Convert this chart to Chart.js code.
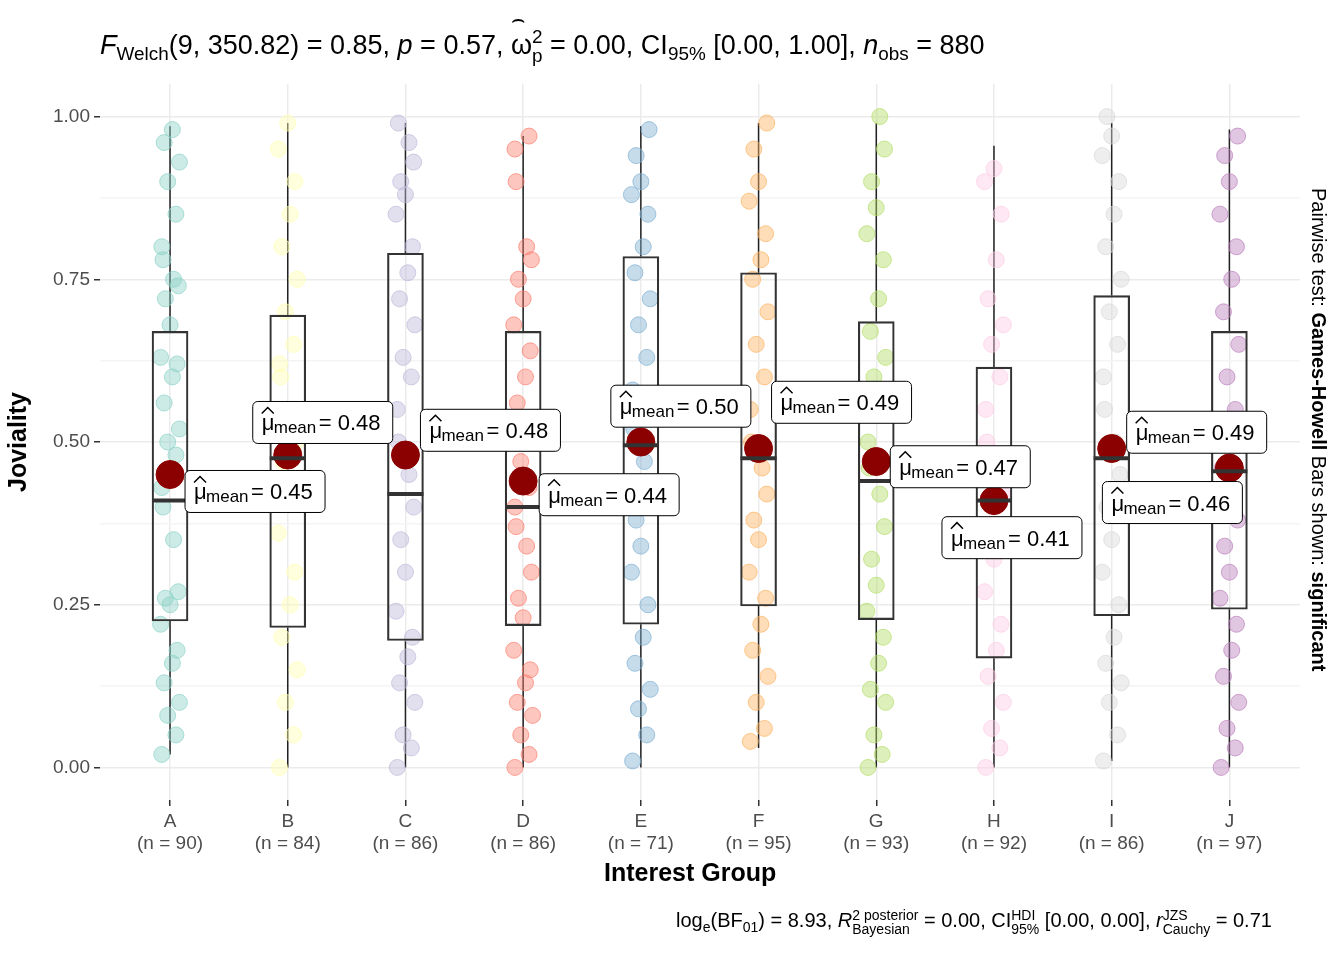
<!DOCTYPE html>
<html><head><meta charset="utf-8">
<script src="https://cdn.jsdelivr.net/npm/chart.js@4.4.1/dist/chart.umd.min.js"></script>
<style>
body{margin:0;background:#fff;font-family:"Liberation Sans",Arial,sans-serif}
#wrap{position:relative;width:1344px;height:960px}
canvas{position:absolute;left:0;top:0}
.t{position:absolute;white-space:nowrap;color:#000}
sub,sup{font-size:70%}
.ss{display:inline-block;vertical-align:middle;line-height:1;font-size:70%;text-align:left}
</style></head><body>
<div id="wrap">
<canvas id="c" width="1344" height="960"></canvas>
<div class="t" style="left:100px;top:28px;font-size:27px"><i>F</i><sub>Welch</sub>(9, 350.82) = 0.85, <i>p</i> = 0.57, <span style="position:relative">ω<span style="position:absolute;left:0px;top:-24px;font-size:22px">⌢</span></span><span class="ss">2<br>p</span> = 0.00, CI<sub>95%</sub> [0.00, 1.00], <i>n</i><sub>obs</sub> = 880</div>
<div class="t" style="left:604px;top:858px;font-size:25px;font-weight:bold">Interest Group</div>
<div class="t" style="left:676px;top:908px;font-size:20px">log<sub>e</sub>(BF<sub>01</sub>) = 8.93, <i>R</i><span class="ss">2 posterior<br>Bayesian</span> = 0.00, CI<span class="ss">HDI<br>95%</span> [0.00, 0.00], <i>r</i><span class="ss">JZS<br>Cauchy</span> = 0.71</div>
<div class="t" style="left:1330px;top:188px;font-size:20px;transform-origin:0 0;transform:rotate(90deg)">Pairwise test: <b>Games-Howell</b> Bars shown: <b>significant</b></div>
</div>
<script>
const groups=["A","B","C","D","E","F","G","H","I","J"];
const counts=[90,84,86,86,71,95,93,92,86,97];
const colors=["#8DD3C7","#FFFFB3","#BEBADA","#FB8072","#80B1D3","#FDB462","#B3DE69","#FCCDE5","#D9D9D9","#BC80BD"];
const q1=[0.225,0.215,0.195,0.218,0.22,0.248,0.227,0.168,0.233,0.243];
const med=[0.41,0.475,0.42,0.40,0.495,0.475,0.44,0.41,0.475,0.455];
const q3=[0.67,0.695,0.79,0.67,0.785,0.76,0.685,0.615,0.725,0.67];
const wlo=[0.02,0.00,0.00,0.00,0.00,0.03,0.00,0.00,0.01,0.00];
const whi=[0.985,0.99,0.99,0.97,0.985,0.99,0.99,0.955,0.99,0.98];
const means=[0.45,0.48,0.48,0.44,0.50,0.49,0.47,0.41,0.49,0.46];
const pts=[
[0.02,0.05,0.08,0.1,0.13,0.16,0.18,0.22,0.25,0.26,0.27,0.35,0.4,0.43,0.48,0.5,0.52,0.56,0.6,0.62,0.63,0.68,0.72,0.74,0.75,0.78,0.8,0.85,0.9,0.93,0.96,0.98],
[0.0,0.05,0.1,0.15,0.2,0.25,0.3,0.36,0.42,0.47,0.5,0.55,0.6,0.62,0.65,0.7,0.75,0.8,0.85,0.9,0.95,0.99],
[0.0,0.03,0.05,0.1,0.13,0.17,0.2,0.24,0.3,0.35,0.4,0.45,0.5,0.55,0.6,0.63,0.68,0.72,0.76,0.8,0.85,0.88,0.9,0.93,0.96,0.99],
[0.0,0.02,0.05,0.08,0.1,0.13,0.15,0.18,0.23,0.26,0.3,0.34,0.37,0.4,0.43,0.47,0.52,0.56,0.6,0.64,0.68,0.72,0.75,0.78,0.8,0.9,0.95,0.97],
[0.01,0.05,0.09,0.12,0.16,0.2,0.25,0.3,0.34,0.38,0.42,0.47,0.52,0.58,0.63,0.68,0.72,0.76,0.8,0.85,0.88,0.9,0.94,0.98],
[0.04,0.06,0.1,0.14,0.18,0.22,0.26,0.3,0.35,0.38,0.42,0.46,0.5,0.55,0.6,0.65,0.7,0.75,0.78,0.82,0.87,0.9,0.95,0.99],
[0.0,0.02,0.05,0.1,0.12,0.16,0.2,0.24,0.28,0.32,0.37,0.42,0.46,0.5,0.55,0.6,0.63,0.67,0.72,0.78,0.82,0.86,0.9,0.95,1.0],
[0.0,0.03,0.06,0.1,0.14,0.18,0.22,0.27,0.32,0.36,0.42,0.46,0.5,0.55,0.6,0.65,0.68,0.72,0.78,0.85,0.9,0.92],
[0.01,0.05,0.1,0.13,0.16,0.2,0.25,0.3,0.35,0.4,0.45,0.5,0.55,0.6,0.65,0.7,0.75,0.8,0.85,0.9,0.94,0.97,1.0],
[0.0,0.03,0.06,0.1,0.14,0.18,0.22,0.26,0.3,0.34,0.38,0.42,0.46,0.5,0.55,0.6,0.65,0.7,0.75,0.8,0.85,0.9,0.94,0.97]
];
const jitter=[-0.07,0.05,-0.02,0.08,-0.05,0.02,0.06,-0.08,0.0,-0.04,0.07,0.03,-0.06];
// label anchor: [px offset of left edge from group, y value of centre]
const labelPos=[[15,0.424],[-35,0.53],[15,0.518],[16,0.419],[-30,0.555],[13,0.561],[14,0.462],[-52,0.353],[15,0.515],[-127,0.407]];

const hex=(h,a)=>{const n=parseInt(h.slice(1),16);return `rgba(${n>>16},${(n>>8)&255},${n&255},${a})`;};
const datasets=[];
pts.forEach((arr,g)=>{
  datasets.push({type:"scatter",data:arr.map((v,i)=>({x:g+jitter[i%jitter.length],y:v})),
    pointRadius:8,backgroundColor:hex(colors[g],0.45),borderColor:hex(colors[g],0.7),borderWidth:1,order:3});
});
datasets.push({type:"bar",data:groups.map((g,i)=>({x:i,y:[q1[i],q3[i]]})),backgroundColor:"rgba(0,0,0,0)",
  borderColor:"#333",borderWidth:1.5,borderSkipped:false,barThickness:36,order:2});
datasets.push({type:"scatter",data:means.map((m,i)=>({x:i,y:m})),pointRadius:14,backgroundColor:"#8B0000",borderColor:"#8B0000",order:0});

const boxExtras={id:"boxExtras",
  beforeDatasetsDraw(ch){
    const {ctx,scales:{x,y}}=ch;ctx.save();ctx.strokeStyle="#222";ctx.lineWidth=1.5;
    groups.forEach((g,i)=>{const px=x.getPixelForValue(i);
      ctx.beginPath();ctx.moveTo(px,y.getPixelForValue(wlo[i]));ctx.lineTo(px,y.getPixelForValue(q1[i]));
      ctx.moveTo(px,y.getPixelForValue(q3[i]));ctx.lineTo(px,y.getPixelForValue(whi[i]));ctx.stroke();});
    ctx.restore();},
  afterDatasetsDraw(ch){
    const {ctx,scales:{x,y}}=ch;ctx.save();
    groups.forEach((g,i)=>{const px=x.getPixelForValue(i);
      ctx.strokeStyle="#333";ctx.lineWidth=4;ctx.beginPath();
      ctx.moveTo(px-18,y.getPixelForValue(med[i]));ctx.lineTo(px+18,y.getPixelForValue(med[i]));ctx.stroke();});
    groups.forEach((g,i)=>{
      const px=x.getPixelForValue(i), lx=px+labelPos[i][0], cy=y.getPixelForValue(labelPos[i][1]);
      const w=140,h=42,ty=cy+8;
      ctx.fillStyle="#fff";ctx.strokeStyle="#000";ctx.lineWidth=1;
      ctx.beginPath();ctx.roundRect(lx,cy-h/2,w,h,5);ctx.fill();ctx.stroke();
      ctx.fillStyle="#000";ctx.textBaseline="alphabetic";ctx.textAlign="left";
      ctx.font="22px 'Liberation Sans'";ctx.fillText("μ",lx+9,ty);
      ctx.lineWidth=1.5;ctx.beginPath();ctx.moveTo(lx+9,ty-17);ctx.lineTo(lx+15,ty-23);ctx.lineTo(lx+21,ty-17);ctx.stroke();
      ctx.font="17px 'Liberation Sans'";ctx.fillText("mean",lx+21,ty+3);
      ctx.font="22px 'Liberation Sans'";ctx.fillText("= "+means[i].toFixed(2),lx+66,ty);
    });
    ctx.restore();}
};

new Chart(document.getElementById("c"),{
  data:{datasets},
  plugins:[boxExtras],
  options:{responsive:false,animation:false,
    layout:{padding:{top:84,right:44,left:0,bottom:0}},
    plugins:{legend:{display:false},tooltip:{enabled:false}},
    scales:{
      x:{type:"linear",min:-0.595,max:9.6,offset:false,afterFit(s){s.height=160;},
        afterBuildTicks(s){s.ticks=groups.map((g,i)=>({value:i}));},
        grid:{offset:false,color:"#ebebeb",lineWidth:1.5,drawTicks:true,tickLength:6,tickColor:"#333"},border:{display:false},
        ticks:{color:"#4d4d4d",font:{size:19,family:"Liberation Sans"},padding:4,
          callback:(v)=>[groups[v],"(n = "+counts[v]+")"]}},
      y:{type:"linear",min:-0.05,max:1.05,afterFit(s){s.width=100;},
        afterBuildTicks(s){s.ticks=[0,0.125,0.25,0.375,0.5,0.625,0.75,0.875,1].map(v=>({value:v}));},
        grid:{color:c=>(c.tick&&(c.tick.value*4)%1===0)?"#ebebeb":"#f4f4f4",lineWidth:1.5,tickLength:6,
          tickColor:c=>(c.tick&&(c.tick.value*4)%1===0)?"#333":"rgba(0,0,0,0)"},border:{display:false},
        ticks:{color:"#4d4d4d",font:{size:19,family:"Liberation Sans"},padding:4,
          callback:v=>((v*4)%1===0)?v.toFixed(2):""},
        title:{display:true,text:"Joviality",color:"#000",font:{size:25,weight:"bold",family:"Liberation Sans"}}}
    }}
});
</script>
</body></html>
